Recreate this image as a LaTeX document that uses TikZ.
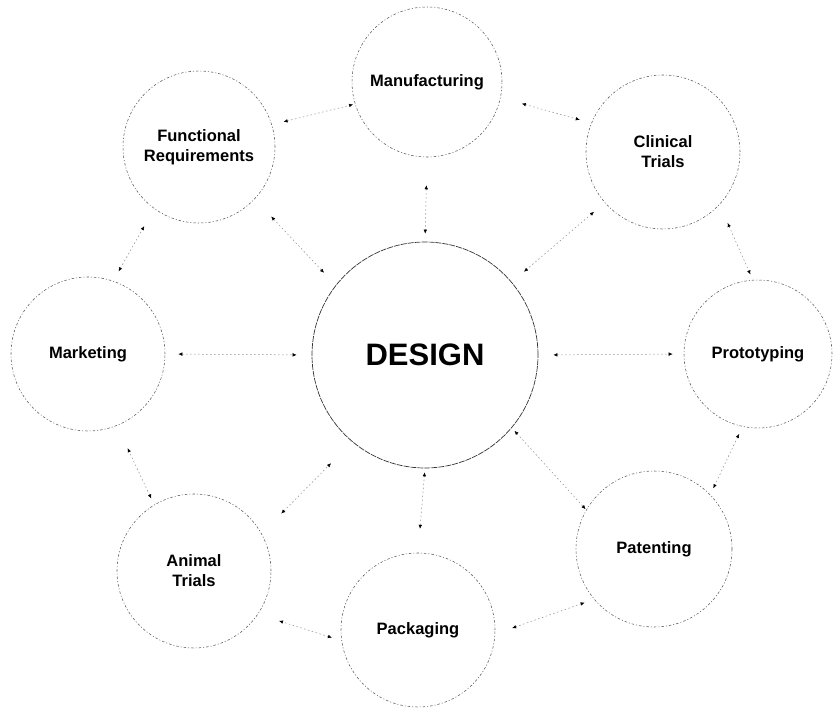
\documentclass[tikz,border=0pt]{standalone}
\usepackage{fontspec}
\setmainfont{Liberation Sans}
\usetikzlibrary{arrows.meta}
\begin{document}
\begin{tikzpicture}[x=1pt,y=-1pt,
  bubble/.style={circle, draw=black!65, line width=0.55pt, dash pattern=on 2.5pt off 2pt on 1pt off 2pt,
    inner sep=0pt, minimum size=154pt, align=center,
    font=\fontsize{16.5}{20}\selectfont\bfseries},
  hub/.style={circle, draw=black!80, line width=0.7pt, dash pattern=on 6pt off 1pt,
    inner sep=0pt, minimum size=226pt, font=\fontsize{31}{36}\selectfont\bfseries},
  conn/.style={draw=black!45, line width=0.5pt, dash pattern=on 1.5pt off 2.5pt,
    {Latex[length=4pt,width=3.5pt,black]}-{Latex[length=4pt,width=3.5pt,black]}}]
\useasboundingbox (0,0) rectangle (833,709);
\node[hub] (design) at (425,355) {DESIGN};
\node[bubble, minimum size=150pt] (manu) at (427,82) {Manufacturing};
\node[bubble, minimum size=152pt] (func) at (199,147) {Functional\\Requirements};
\node[bubble] (clin) at (663,152) {Clinical\\Trials};
\node[bubble] (mark) at (88,354) {Marketing};
\node[bubble, minimum size=148pt] (proto) at (758,354) {Prototyping};
\node[bubble] (animal) at (194,571) {Animal\\Trials};
\node[bubble] (pack) at (418,630) {Packaging};
\node[bubble, minimum size=156pt] (pat) at (654,549) {Patenting};

\draw[conn, shorten <=12pt, shorten >=2pt] (func.17) -- (manu.197);
\draw[conn, shorten <=22pt, shorten >=12pt] (manu.-12) -- (clin.158);
\draw[conn, shorten <=20pt, shorten >=6pt] (clin.-43) -- (proto.94);
\draw[conn, shorten <=8pt, shorten >=7pt] (proto.-102) -- (pat.44);
\draw[conn, shorten <=10pt, shorten >=18pt] (pat.220) -- (pack.-3);
\draw[conn, shorten <=10pt, shorten >=22pt] (pack.188) -- (animal.-34);
\draw[conn, shorten <=7pt, shorten >=25pt] (animal.121) -- (mark.-68);
\draw[conn, shorten <=11pt, shorten >=20pt] (mark.71) -- (func.234);
\draw[conn, shorten <=13pt, shorten >=15pt] (mark.0) -- (design.180);
\draw[conn, shorten <=15pt, shorten >=11pt] (design.0) -- (proto.180);
\draw[conn, shorten <=24pt, shorten >=17pt] (func.-43) -- (design.142);
\draw[conn, shorten <=28pt, shorten >=8pt] (manu.-90) -- (design.90);
\draw[conn, shorten <=14pt, shorten >=16pt] (clin.221) -- (design.40);
\draw[conn, shorten <=4pt, shorten >=1pt] (design.-40) -- (pat.150);
\draw[conn, shorten <=28pt, shorten >=30pt] (animal.29) -- (design.230);
\draw[conn, shorten <=24pt, shorten >=4pt] (pack.90) -- (design.-90);
\end{tikzpicture}
\end{document}
